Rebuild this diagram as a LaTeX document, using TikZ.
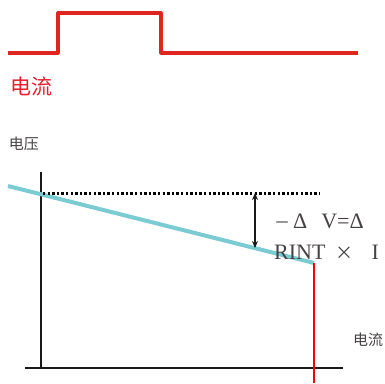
\documentclass[tikz,border=0pt]{standalone}
\usepackage{fontspec}
\setmainfont{Liberation Serif}
\newfontfamily\cjk{Noto Sans CJK SC}
\usetikzlibrary{arrows.meta,positioning}
\definecolor{pulsered}{RGB}{222,38,30}
\definecolor{labelred}{RGB}{230,30,45}
\definecolor{droopcyan}{RGB}{122,204,210}
\definecolor{txtgray}{RGB}{70,66,66}
\definecolor{cutred}{RGB}{255,0,0}

\begin{document}
\begin{tikzpicture}[x=1pt,y=-1pt,
  axis/.style={line width=2.8pt, draw=black!90},
  cjklabel/.style={font=\cjk\fontsize{15}{15}\selectfont, text=txtgray, inner sep=0pt},
  formula/.style={font=\fontsize{22}{22}\selectfont, text=txtgray, anchor=west, inner sep=0pt}]
  \useasboundingbox (0,0) rectangle (385,383);

  % Current pulse
  \draw[pulsered, line width=3.2pt, line join=round]
    (8,53) -- (58,53) -- (58,13) -- (161,13) -- (161,53) -- (358,53);
  \node[font=\cjk\fontsize{21}{21}\selectfont, text=labelred, inner sep=0pt] (ilabel) at (31,86) {电流};

  % Voltage axes
  \node[cjklabel] (vlabel) at (24,144) {电压};
  \coordinate (yaxtop) at (41,172);
  \coordinate (origin) at (41,368);
  \coordinate (xaxl) at (25,368);
  \coordinate (xaxr) at (343,368);
  \draw[axis] (yaxtop) -- (origin);
  \draw[axis] (xaxl) -- (xaxr);

  % Voltage drop
  \coordinate (vstart) at (8,186);
  \coordinate (vend) at (314,263);
  \draw[droopcyan, line width=4pt] (vstart) -- (vend);
  \coordinate (dotl) at (43,193);
  \coordinate (dotr) at (320,193);
  \draw[black, line width=3pt, dash pattern=on 2.4pt off 2.2pt] (dotl) -- (dotr);
  \coordinate (dvtop) at (255,193);
  \coordinate (dvbot) at (255,248);
  \draw[black!90, line width=1.8pt, {Stealth[length=7pt,width=6pt]}-{Stealth[length=7pt,width=6pt]}] (dvtop) -- (dvbot);
  \node[formula] (dvtext1) at (274,221) {{\cjk\fontsize{16}{16}\selectfont －}\hspace{3pt}Δ\hspace{14pt}V=Δ};
  \node[formula] (dvtext2) at (274,252) {RINT\hspace{10pt}{\cjk\fontsize{18}{18}\selectfont ×}\hspace{18pt}I};

  % Current cut-off
  \coordinate (cutbot) at (314,383);
  \draw[cutred, line width=2.2pt] (vend) -- (cutbot);
  \node[cjklabel, anchor=west] (ilabel2) at (353,340) {电流};
\end{tikzpicture}
\end{document}
